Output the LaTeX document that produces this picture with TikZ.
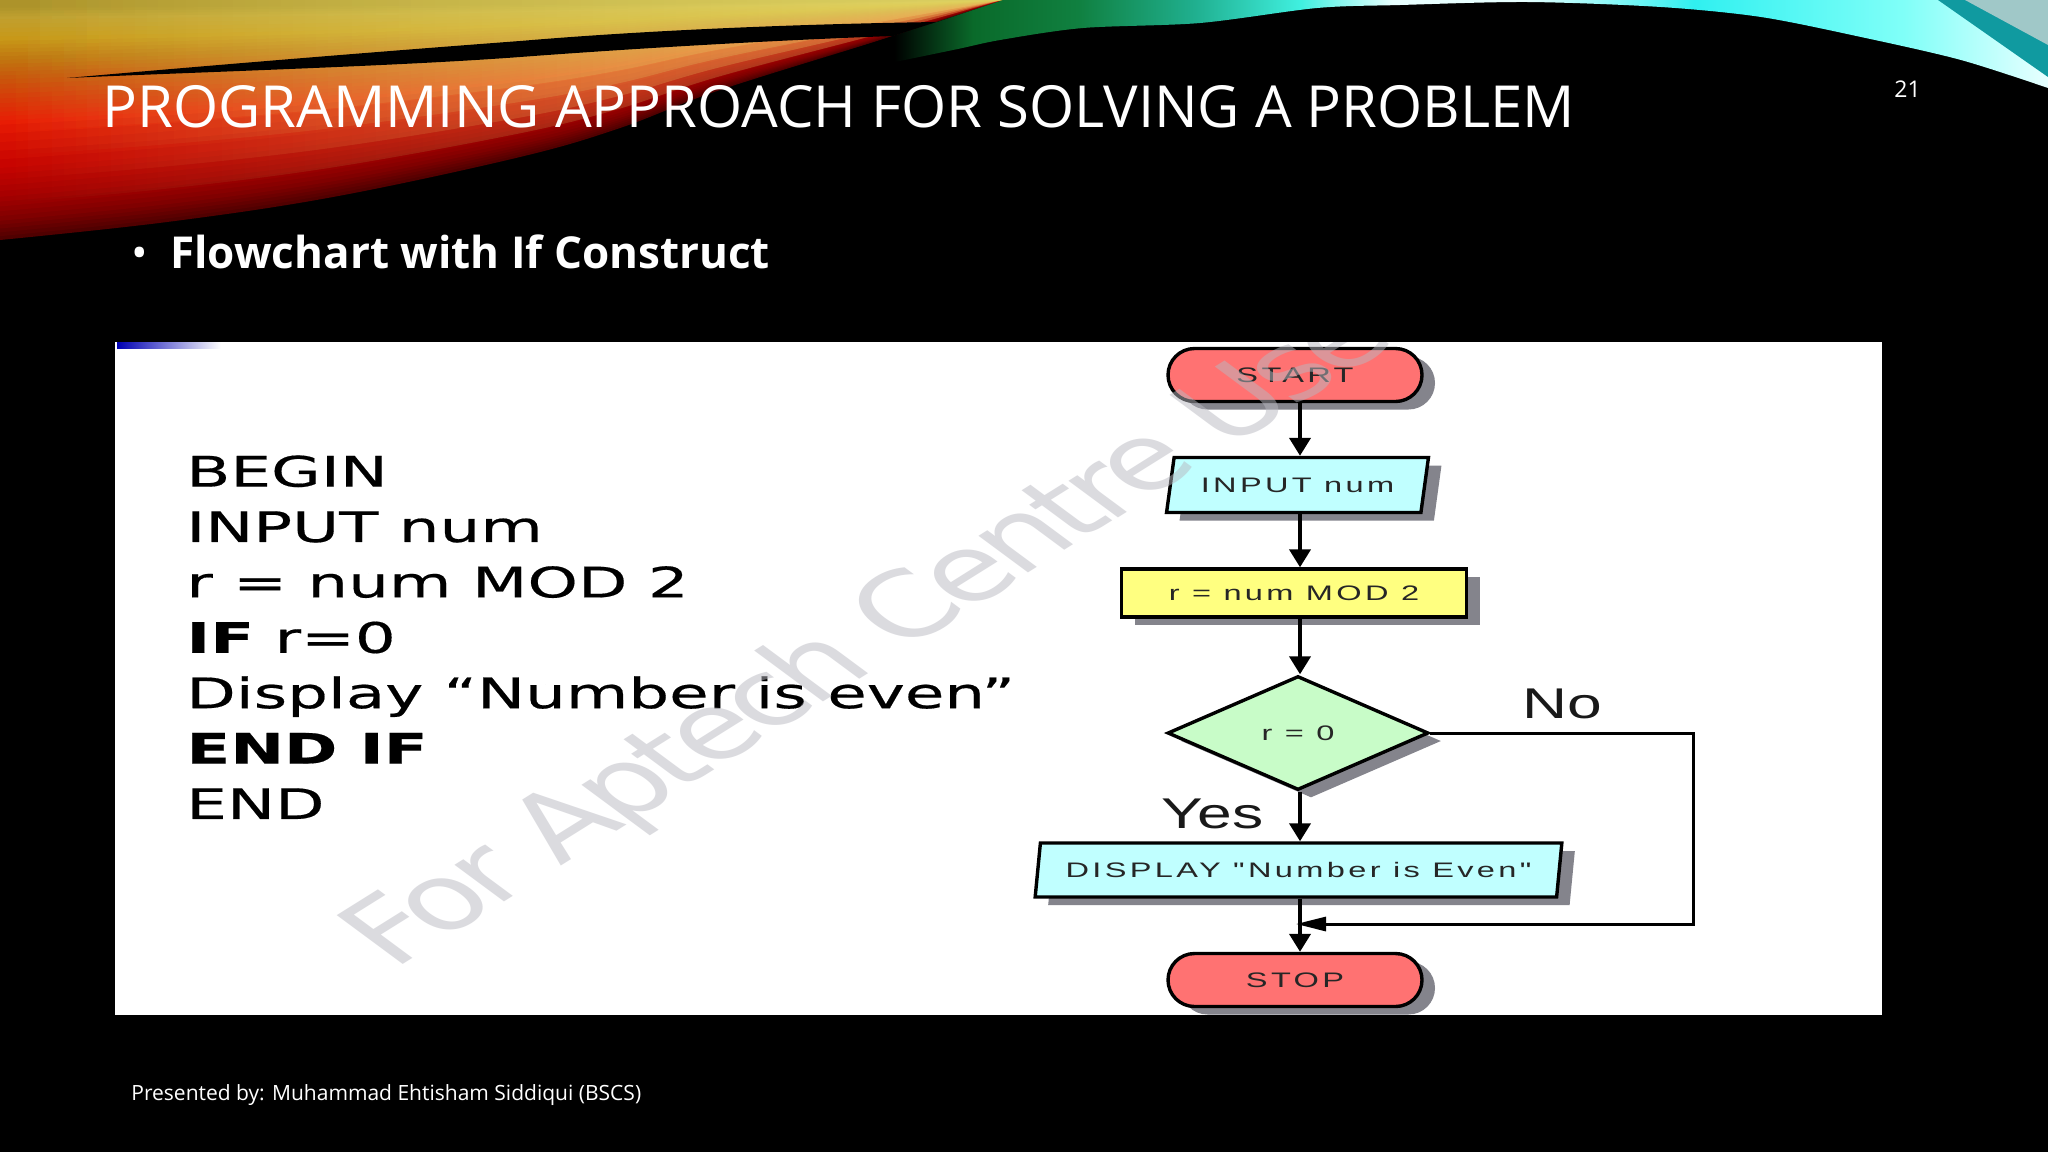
\documentclass[tikz,border=0pt]{standalone}
\usepackage{fontspec}
\usetikzlibrary{arrows.meta,shapes.geometric,shapes.misc,shadows,fadings}

\setmainfont{Open Sans}
\newfontfamily\codefont[FakeStretch=1.53,FakeBold=0.4]{DejaVu Sans}
\newfontfamily\chartfont[FakeStretch=1.55,LetterSpace=16]{Liberation Sans}
\newfontfamily\labelfont[FakeStretch=1.45]{Liberation Sans}
\newfontfamily\markfont[LetterSpace=-6]{DejaVu Sans}

\definecolor{warmA}{HTML}{500000}
\definecolor{warmB}{HTML}{800000}
\definecolor{warmC}{HTML}{A80000}
\definecolor{warmD}{HTML}{C80400}
\definecolor{warmE}{HTML}{E81C04}
\definecolor{warmF}{HTML}{D83808}
\definecolor{warmG}{HTML}{C8580C}
\definecolor{warmH}{HTML}{C07810}
\definecolor{warmI}{HTML}{C89818}
\definecolor{warmJ}{HTML}{C0A030}
\definecolor{warmK}{HTML}{A89028}
\definecolor{paleyellow}{HTML}{E8E070}
\definecolor{coolA}{HTML}{0A6A2A}
\definecolor{coolB}{HTML}{108040}
\definecolor{coolC}{HTML}{20B090}
\definecolor{coolD}{HTML}{40F0E0}
\definecolor{coolE}{HTML}{E8FFFF}
\definecolor{coolF}{HTML}{30F0F0}
\definecolor{coolG}{HTML}{80FFF8}
\definecolor{cornerdark}{HTML}{109AA0}
\definecolor{cornerpale}{HTML}{A0C8C8}
\definecolor{startred}{HTML}{FF7272}
\definecolor{inputcyan}{HTML}{C0FFFF}
\definecolor{procyellow}{HTML}{FFFF80}
\definecolor{decgreen}{HTML}{C8FCC8}
\definecolor{shadowgray}{HTML}{84848C}
\definecolor{markgray}{HTML}{B8B8C0}

% only the middle 25bp to 75bp of a shading reaches the path
\pgfdeclarehorizontalshading{coolband}{100bp}{
	color(0bp)=(black);
	color(31bp)=(black);
	color(34bp)=(coolA);
	color(38bp)=(coolB);
	color(42.5bp)=(coolC);
	color(46.5bp)=(coolD);
	color(50bp)=(coolE);
	color(55bp)=(coolE);
	color(61.5bp)=(coolF);
	color(69.5bp)=(coolG);
	color(75bp)=(coolE);
	color(100bp)=(coolE)}
\tikzfading[name=fadeleft, left color=transparent!100, middle color=transparent!85, right color=transparent!0]

\tikzset{
	boxshadow/.style={drop shadow={shadow xshift=6.5pt,shadow yshift=-4pt,opacity=1,fill=shadowgray}},
	chartnode/.style={draw=black,line width=1.7pt,inner sep=0pt,boxshadow,text=black!85,font=\chartfont\fontsize{10.5}{12}\selectfont},
	terminal/.style={chartnode,rounded rectangle,fill=startred,minimum width=127pt,minimum height=26.5pt},
	inputbox/.style={chartnode,trapezium,trapezium left angle=68,trapezium right angle=112,trapezium stretches=true,fill=inputcyan},
	procbox/.style={chartnode,rectangle,fill=procyellow,minimum width=172.5pt,minimum height=24pt},
	decision/.style={chartnode,diamond,fill=decgreen,minimum width=130.5pt,minimum height=57pt},
	flow/.style={line width=2pt,-{Triangle[length=9pt,width=10.5pt]}},
	flowback/.style={line width=1.5pt,-{Triangle[length=15pt,width=7pt]}},
	chartlabel/.style={anchor=base west,inner sep=0pt,font=\labelfont\fontsize{21.5}{24}\selectfont,text=black!90},
	slidetext/.style={anchor=base west,inner sep=0pt,text=white}
}

% swoosh edge, scaled in y for the colour bands
\newcommand{\warmedge}{(0,0) -- plot[smooth,tension=.6] coordinates {(0,240) (167,222) (333,197) (520,157) (620,128) (720,90) (893,36) (1003,0)} -- cycle}

\begin{document}
\begin{tikzpicture}[x=0.5pt,y=-0.5pt]
	\fill[black] (0,0) rectangle (2048,1152);
	\useasboundingbox (0,0) rectangle (2048,1152);

	% warm swoosh
	\foreach \fa/\fb/\ca/\cb in {1/.92/warmA/warmB,.92/.82/warmB/warmC,.82/.7/warmC/warmD,.7/.52/warmD/warmE,.52/.43/warmE/warmF,.43/.33/warmF/warmG,.33/.25/warmG/warmH,.25/.17/warmH/warmI,.17/.08/warmI/warmJ,.08/.02/warmJ/warmK}{
		\foreach \k in {0,20,40,60,80}{
			\fill[\cb!\k!\ca,yscale={\fa+(\fb-\fa)*\k/100}] \warmedge;
		}
	}
	\foreach \s in {.85,.75,.65,.55}{
		\fill[paleyellow,fill opacity=.33,path fading=fadeleft,yscale=\s] \warmedge;
	}

	% dark lens
	\fill[black] (67,78) .. controls (250,62) and (400,50) .. (520,41) .. controls (650,30) and (800,24) .. (937,22) -- (893,36) .. controls (780,40) and (640,48) .. (520,57) .. controls (400,66) and (200,72) .. (67,78) -- cycle;

	% cool band
	\shade[shading=coolband] (737,88) -- (893,36) -- (937,22) -- (1003,0) -- (2048,0) -- plot[smooth,tension=.5] coordinates {(2048,88) (1961,60) (1861,37) (1761,17) (1661,7) (1528,2) (1400,5) (1317,8) (1200,23) (1083,28) (1000,40) (953,50) (853,70) (737,88)} -- cycle;
	\fill[cornerdark] (1938,0) -- (2048,77) -- (2048,0) -- cycle;
	\fill[cornerpale] (1965,0) -- (2048,45) -- (2048,0) -- cycle;

	% slide texts
	\node[slidetext,font=\fontsize{29}{32}\selectfont] (title) at (102,127) {PROGRAMMING APPROACH FOR SOLVING A PROBLEM};
	\node[slidetext,font=\fontsize{11.5}{14}\selectfont] (pagenum) at (1894,97) {21};
	\node[slidetext,font=\fontsize{22}{26}\selectfont] (bullet) at (131,268) {•};
	\node[slidetext,font=\bfseries\fontsize{22}{26}\selectfont] (heading) at (170,268) {Flowchart with If Construct};
	\node[slidetext,font=\fontsize{10.5}{13}\selectfont] (footer) at (131,1100) {Presented by: Muhammad Ehtisham Siddiqui (BSCS)};

	% panel
	\fill[white] (115,342) rectangle (1882,1015);
	\shade[left color=blue!70!black,right color=white] (117,342) rectangle (221,348);

	% pseudocode
	\node[anchor=north west,inner sep=0pt,align=left,text=black,font=\codefont\fontsize{21}{27.7}\selectfont] (code) at (186,455) {BEGIN\\
		INPUT num\\
		r = num MOD 2\\
		\textbf{IF} r=0\\
		Display “Number is even”\\
		\textbf{END IF}\\
		END};

	% flowchart
	\coordinate (axis) at (1300,0);
	\node[terminal] (start) at (1295,375) {START};
	\node[inputbox,minimum width=131pt,minimum height=27.5pt] (input) at (1297.5,485) {INPUT num};
	\node[procbox] (mod) at (1294,593) {r = num MOD 2};
	\node[decision] (test) at (1298,733) {r = 0};
	\node[inputbox,trapezium left angle=73,trapezium right angle=107,minimum width=264pt,minimum height=27pt] (show) at (1298.5,870) {DISPLAY "Number is Even"};
	\node[terminal] (stop) at (1295,980) {STOP};

	\coordinate (noturn) at (1693,924);
	\coordinate (merge) at (1296,924);

	\draw[flow] (axis |- start.south) -- (axis |- input.north);
	\draw[flow] (axis |- input.south) -- (axis |- mod.north);
	\draw[flow] (axis |- mod.south) -- (axis |- test.north);
	\draw[flow] (axis |- test.south) -- (axis |- show.north);
	\draw[flow] (axis |- show.south) -- (axis |- stop.north);
	\draw[flowback] (test.east) -| (noturn) -- (merge);

	\node[chartlabel] (nolabel) at (1522,718) {No};
	\node[chartlabel] (yeslabel) at (1161,828) {Yes};

	% watermark over the panel
	\begin{scope}
		\clip (115,342) rectangle (1882,1015);
		\begin{scope}[shift={(393,971)},xscale=1.47]
			\node[anchor=base west,rotate=42.6,transform shape,inner sep=0pt,text=markgray,text opacity=.5,font=\markfont\fontsize{45.5}{50}\selectfont] (mark) at (0,0) {For Aptech Centre Use};
		\end{scope}
	\end{scope}
\end{tikzpicture}
\end{document}
